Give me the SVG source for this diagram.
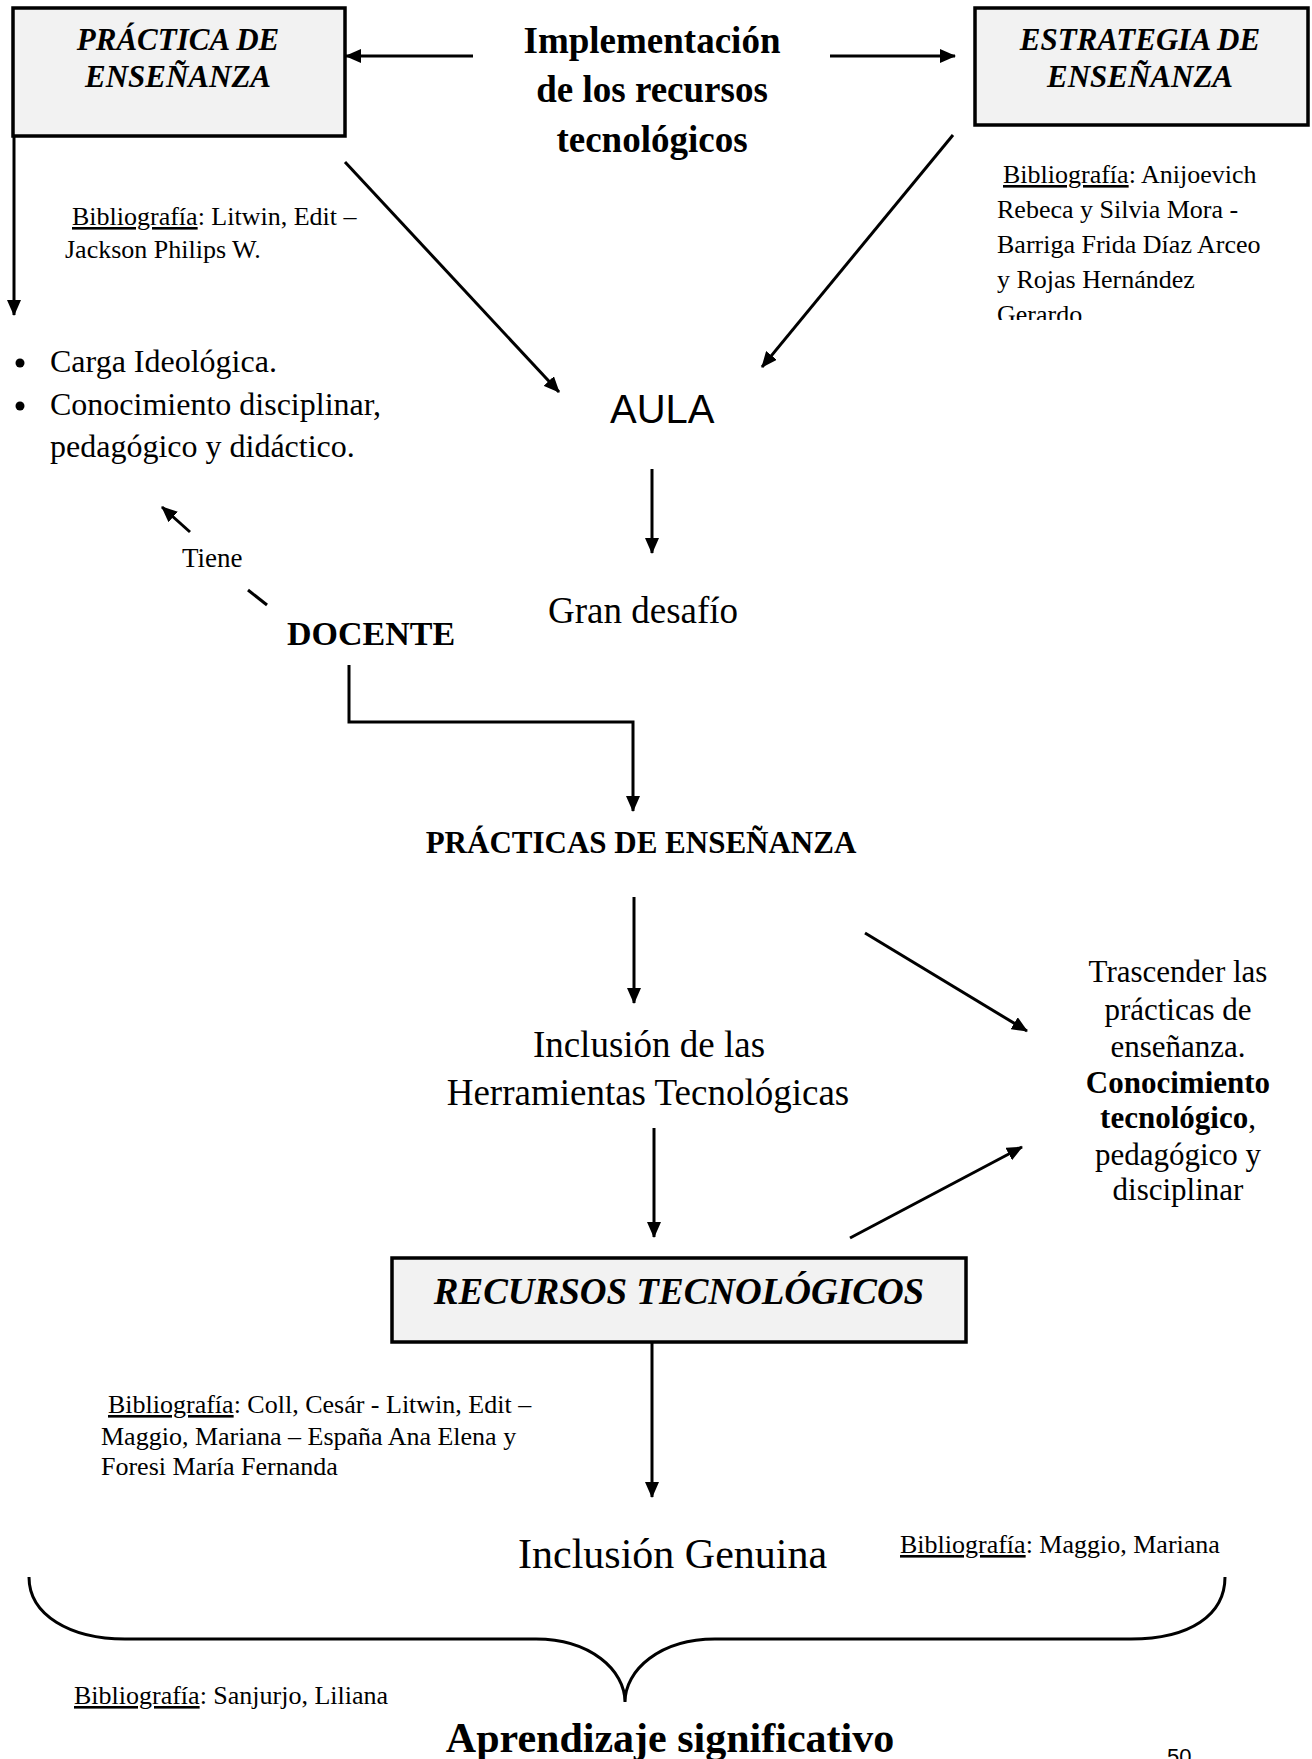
<svg xmlns="http://www.w3.org/2000/svg" width="1312" height="1759" viewBox="0 0 1312 1759">
<style>
.t{font-family:"Liberation Serif","Times New Roman",serif;fill:#000}
.b{font-weight:bold}
.i{font-style:italic}
.s{font-family:"Liberation Sans",Arial,sans-serif;fill:#000}
.u{text-decoration:underline}
.box{fill:#f2f2f2;stroke:#000;stroke-width:3.5}
.ln{fill:none;stroke:#000;stroke-width:3}
.ar{fill:none;stroke:#000;stroke-width:3;marker-end:url(#ah)}
</style>
<defs>
<marker id="ah" viewBox="0 0 16 14" refX="15" refY="7" markerWidth="16" markerHeight="14" markerUnits="userSpaceOnUse" orient="auto">
<path d="M0,0 L16,7 L0,14 z" fill="#000"/>
</marker>
<clipPath id="clipR"><rect x="980" y="140" width="332" height="180"/></clipPath>
</defs>
<rect width="1312" height="1759" fill="#fff"/>

<g id="practica">
<rect class="box" x="13" y="8" width="332" height="128"/>
<text class="t b i" font-size="31" text-anchor="middle"><tspan x="178" y="50">PRÁCTICA DE</tspan><tspan x="178" y="87">ENSEÑANZA</tspan></text>
</g>

<g id="estrategia">
<rect class="box" x="975" y="8" width="333" height="117"/>
<text class="t b i" font-size="31" text-anchor="middle"><tspan x="1140" y="50">ESTRATEGIA DE</tspan><tspan x="1140" y="87">ENSEÑANZA</tspan></text>
</g>

<g id="implementacion">
<text class="t b" font-size="37" text-anchor="middle"><tspan x="652" y="53">Implementación</tspan><tspan x="652" y="102">de los recursos</tspan><tspan x="652" y="152">tecnológicos</tspan></text>
</g>

<g id="bib-litwin">
<text class="t" font-size="26"><tspan x="72" y="225"><tspan class="u">Bibliografía</tspan>: Litwin, Edit –</tspan><tspan x="65" y="258">Jackson Philips W.</tspan></text>
</g>

<g id="bib-anijoevich" clip-path="url(#clipR)">
<text class="t" font-size="26"><tspan x="1003" y="183"><tspan class="u">Bibliografía</tspan>: Anijoevich</tspan><tspan x="997" y="218">Rebeca y Silvia Mora -</tspan><tspan x="997" y="253">Barriga Frida Díaz Arceo</tspan><tspan x="997" y="288">y Rojas Hernández</tspan><tspan x="997" y="323">Gerardo</tspan></text>
</g>

<g id="bullets">
<circle cx="20" cy="363" r="4.5" fill="#000"/>
<circle cx="20" cy="406" r="4.5" fill="#000"/>
<text class="t" font-size="32"><tspan x="50" y="372">Carga Ideológica.</tspan><tspan x="50" y="415">Conocimiento disciplinar,</tspan><tspan x="50" y="457">pedagógico y didáctico.</tspan></text>
</g>

<g id="aula">
<text class="s" font-size="40" x="610" y="423">AULA</text>
</g>

<g id="desafio">
<text class="t" font-size="37" x="548" y="623">Gran desafío</text>
</g>

<g id="tiene">
<text class="t" font-size="27" x="182" y="567">Tiene</text>
</g>

<g id="docente">
<text class="t b" font-size="34" x="287" y="645">DOCENTE</text>
</g>

<g id="practicas">
<text class="t b" font-size="31" x="641" y="853" text-anchor="middle">PRÁCTICAS DE ENSEÑANZA</text>
</g>

<g id="inclusion-herramientas">
<text class="t" font-size="37" text-anchor="middle"><tspan x="649" y="1057">Inclusión de las</tspan><tspan x="648" y="1105">Herramientas Tecnológicas</tspan></text>
</g>

<g id="trascender">
<text class="t" font-size="31" text-anchor="middle"><tspan x="1178" y="982">Trascender las</tspan><tspan x="1178" y="1020">prácticas de</tspan><tspan x="1178" y="1057">enseñanza.</tspan><tspan x="1178" y="1093" class="b">Conocimiento</tspan><tspan x="1178" y="1128"><tspan class="b">tecnológico</tspan>,</tspan><tspan x="1178" y="1165">pedagógico y</tspan><tspan x="1178" y="1200">disciplinar</tspan></text>
</g>

<g id="recursos">
<rect class="box" x="392" y="1258" width="574" height="84"/>
<text class="t b i" font-size="37" x="679" y="1304" text-anchor="middle">RECURSOS TECNOLÓGICOS</text>
</g>

<g id="bib-coll">
<text class="t" font-size="26"><tspan x="108" y="1413"><tspan class="u">Bibliografía</tspan>: Coll, Cesár - Litwin, Edit –</tspan><tspan x="101" y="1445">Maggio, Mariana – España Ana Elena y</tspan><tspan x="101" y="1475">Foresi María Fernanda</tspan></text>
</g>

<g id="genuina">
<text class="t" font-size="42" x="518" y="1568">Inclusión Genuina</text>
</g>

<g id="bib-maggio">
<text class="t" font-size="26" x="900" y="1553"><tspan class="u">Bibliografía</tspan>: Maggio, Mariana</text>
</g>

<g id="bib-sanjurjo">
<text class="t" font-size="26" x="74" y="1704"><tspan class="u">Bibliografía</tspan>: Sanjurjo, Liliana</text>
</g>

<g id="aprendizaje">
<text class="t b" font-size="42" x="670" y="1752" text-anchor="middle">Aprendizaje significativo</text>
</g>

<g id="pagenum">
<text class="s" font-size="22" x="1167" y="1764">50</text>
</g>

<g id="connectors">
<line class="ar" x1="473" y1="56" x2="346" y2="56"/>
<line class="ar" x1="830" y1="56" x2="955" y2="56"/>
<line class="ar" x1="14" y1="136" x2="14" y2="315"/>
<line class="ar" x1="345" y1="162" x2="559" y2="392"/>
<line class="ar" x1="953" y1="135" x2="762" y2="367"/>
<line class="ar" x1="652" y1="469" x2="652" y2="553"/>
<line class="ar" x1="190" y1="532" x2="162" y2="507"/>
<line class="ln" x1="248" y1="590" x2="267" y2="605"/>
<polyline class="ar" points="349,665 349,722 633,722 633,811"/>
<line class="ar" x1="634" y1="897" x2="634" y2="1003"/>
<line class="ar" x1="865" y1="933" x2="1027" y2="1031"/>
<line class="ar" x1="654" y1="1128" x2="654" y2="1237"/>
<line class="ar" x1="850" y1="1238" x2="1022" y2="1147"/>
<line class="ar" x1="652" y1="1342" x2="652" y2="1497"/>
<path class="ln" stroke-width="3.5" d="M29,1577 C29,1615 70,1639 125,1639 L536,1639 C590,1639 625,1670 625,1702 C625,1670 660,1639 715,1639 L1131,1639 C1190,1639 1225,1615 1225,1577"/>
</g>
</svg>
